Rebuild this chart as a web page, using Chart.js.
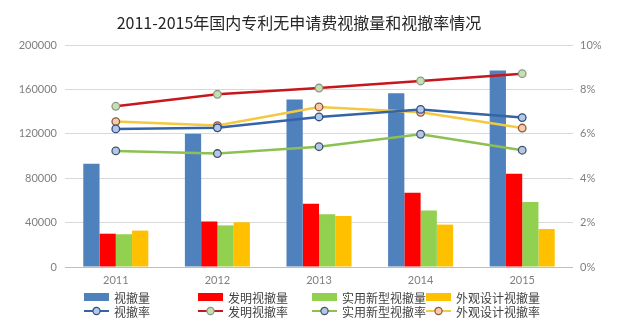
<!DOCTYPE html>
<html>
<head>
<meta charset="utf-8">
<script src="https://cdn.jsdelivr.net/npm/chart.js@4.4.1/dist/chart.umd.min.js"></script>
<style>
  html, body { margin: 0; padding: 0; background: #fff; }
  #wrap { position: relative; width: 640px; height: 331px; }
  #chartTitle {
    position: absolute; left: 0; top: 12px; width: 598px;
    text-align: center; font: 16px "Noto Sans CJK SC", sans-serif; color: #262626;
    line-height: 20px;
  }
  #legend {
    position: absolute; left: 84px; top: 290px;
    display: grid; grid-template-columns: repeat(4, 114px); grid-auto-rows: 14px;
    font: 12px "Noto Sans CJK SC", sans-serif; color: #404040;
  }
  .item { display: flex; align-items: center; white-space: nowrap; }
  .item svg { margin-right: 5px; flex: none; }
</style>
</head>
<body>
<div id="wrap">
  <canvas id="withdrawChart" width="640" height="331"></canvas>
  <div id="chartTitle">2011-2015年国内专利无申请费视撤量和视撤率情况</div>
  <div id="legend"></div>
</div>
<script>
const years = ['2011', '2012', '2013', '2014', '2015'];

// withdrawn counts (left axis)
const totalWithdrawn = [93000, 120000, 151000, 156500, 177000];
const inventionWithdrawn = [30000, 41000, 57000, 67000, 84000];
const utilityWithdrawn = [29500, 37500, 47500, 51000, 58500];
const designWithdrawn = [32800, 40300, 46000, 38200, 34200];

// withdrawal rates in % (right axis)
const totalRate = [6.22, 6.27, 6.76, 7.10, 6.73];
const inventionRate = [7.24, 7.78, 8.06, 8.38, 8.71];
const utilityRate = [5.23, 5.11, 5.42, 5.98, 5.26];
const designRate = [6.55, 6.37, 7.21, 6.97, 6.26];

const countTicks = [0, 40000, 80000, 120000, 160000, 200000];
const rateTicks = [0, 2, 4, 6, 8, 10];

function bar(label, data, color) {
  return {
    type: 'bar', label: label, data: data, yAxisID: 'y',
    backgroundColor: color, borderWidth: 0, order: 2,
    categoryPercentage: 0.64, barPercentage: 1.0
  };
}

function rateLine(label, data, color, fill, stroke) {
  return {
    type: 'line', label: label, data: data, yAxisID: 'y1',
    borderColor: color, borderWidth: 2.5, tension: 0,
    pointRadius: 3.8, pointBorderWidth: 1.3,
    pointBackgroundColor: fill, pointBorderColor: stroke, order: 1
  };
}

const datasets = [
  bar('视撤量', totalWithdrawn, '#4f81bd'),
  bar('发明视撤量', inventionWithdrawn, '#ff0000'),
  bar('实用新型视撤量', utilityWithdrawn, '#92d050'),
  bar('外观设计视撤量', designWithdrawn, '#ffc000'),
  rateLine('视撤率', totalRate, '#3563a8', '#b4c7e7', '#2f4f80'),
  rateLine('发明视撤率', inventionRate, '#c8161d', '#c5e0b4', '#8a9a80'),
  rateLine('实用新型视撤率', utilityRate, '#8cc152', '#b4c7e7', '#44546a'),
  rateLine('外观设计视撤率', designRate, '#f5c842', '#f8cbad', '#8a5a3a')
];

const tickFont = { family: 'Lato, "Open Sans", sans-serif', size: 11 };

const chart = new Chart(document.getElementById('withdrawChart'), {
  data: { labels: years, datasets: datasets },
  options: {
    responsive: false,
    animation: false,
    layout: { padding: { top: 45, left: 0, right: 0, bottom: 0 } },
    plugins: { legend: { display: false }, title: { display: false }, tooltip: { enabled: false } },
    scales: {
      x: {
        grid: { display: false, drawTicks: false },
        border: { display: false },
        ticks: { color: '#7f7f7f', font: tickFont, padding: 7 },
        afterFit: s => { s.height = 64; }
      },
      y: {
        position: 'left', min: 0, max: 200000,
        afterBuildTicks: s => { s.ticks = countTicks.map(v => ({ value: v })); },
        grid: {
          drawTicks: false,
          color: c => c.tick && c.tick.value === 0 ? '#bfbfbf' : '#d9d9d9'
        },
        border: { display: false },
        ticks: { color: '#7f7f7f', font: tickFont, padding: 8, callback: v => String(v) },
        afterFit: s => { s.width = 65; }
      },
      y1: {
        position: 'right', min: 0, max: 10,
        afterBuildTicks: s => { s.ticks = rateTicks.map(v => ({ value: v })); },
        grid: { display: false, drawTicks: false },
        border: { display: false },
        ticks: { color: '#7f7f7f', font: tickFont, padding: 7, callback: v => v + '%' },
        afterFit: s => { s.width = 67; }
      }
    }
  }
});

// legend: bars in the first row, rate lines in the second
const legend = document.getElementById('legend');
chart.data.datasets.forEach(ds => {
  const item = document.createElement('div');
  item.className = 'item';
  let icon;
  if (ds.type === 'bar') {
    icon = '<svg width="25" height="10"><rect x="0" y="1" width="25" height="8" fill="' + ds.backgroundColor + '"/></svg>';
  } else {
    icon = '<svg width="25" height="10"><line x1="0" y1="5" x2="25" y2="5" stroke="' + ds.borderColor +
      '" stroke-width="2"/><circle cx="12.5" cy="5" r="3.6" fill="' + ds.pointBackgroundColor +
      '" stroke="' + ds.pointBorderColor + '" stroke-width="1.2"/></svg>';
  }
  item.innerHTML = icon + '<span>' + ds.label + '</span>';
  legend.appendChild(item);
});
</script>
</body>
</html>
